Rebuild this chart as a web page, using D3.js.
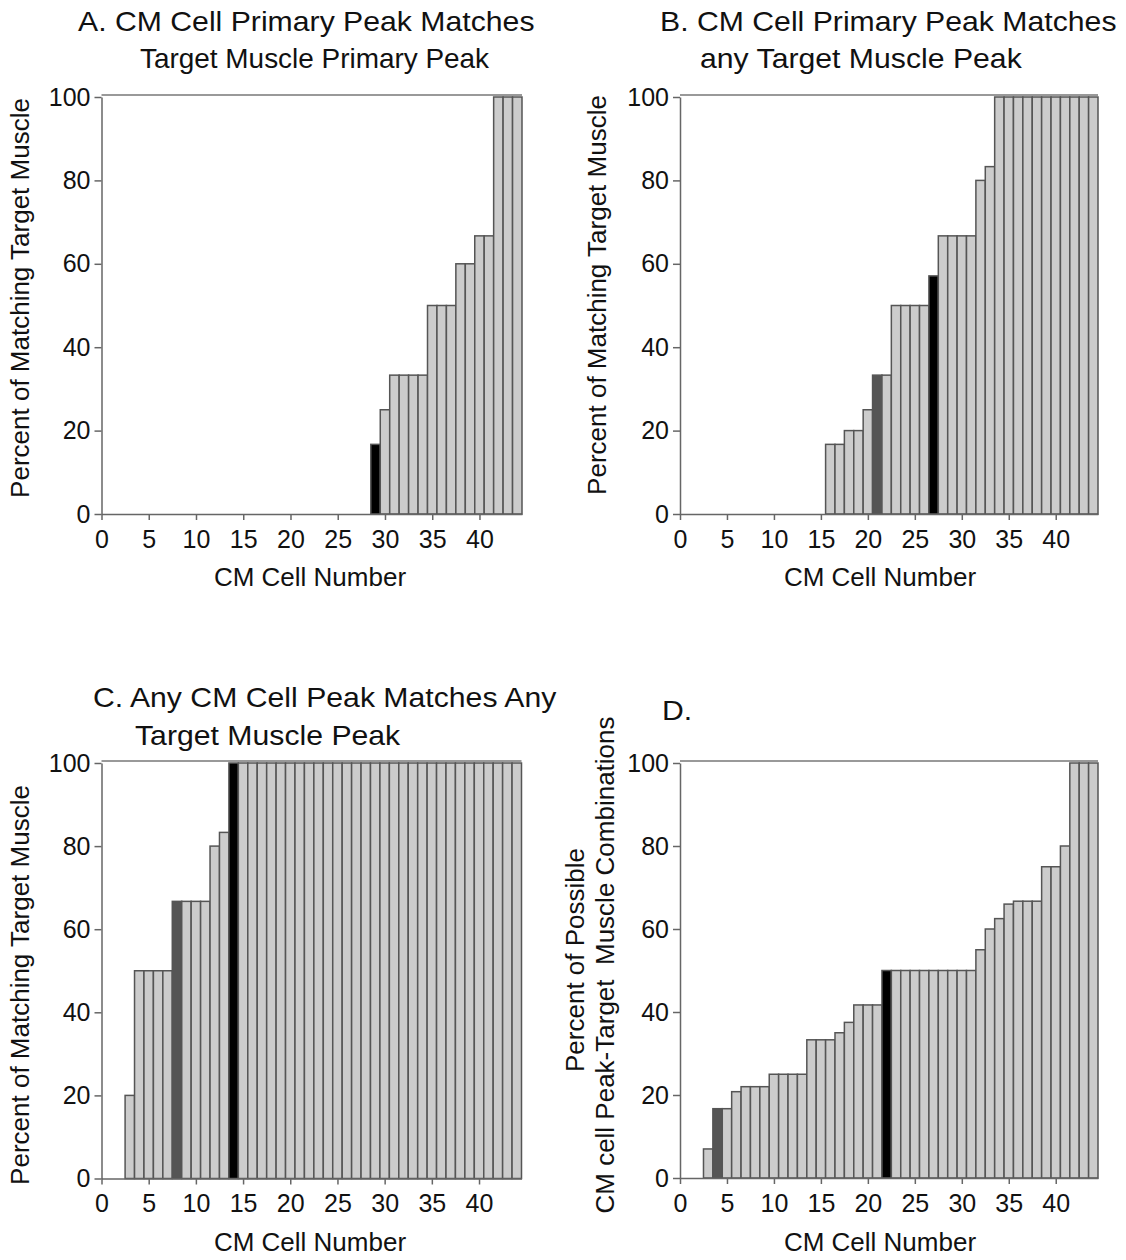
<!DOCTYPE html>
<html>
<head>
<meta charset="utf-8">
<script src="https://cdn.jsdelivr.net/npm/d3@7/dist/d3.min.js"></script>
<style>
  html, body { margin: 0; padding: 0; background: #fff; }
  svg { display: block; font-family: "Liberation Sans", Arial, Helvetica, sans-serif; }
  .tick text { font-size: 25px; fill: #111; }
  .tick line, .domain { stroke: #666; stroke-width: 1.5; }
</style>
</head>
<body>
<svg id="chart" width="1126" height="1260"></svg>
<script>
// CM cell numbers, 1 to 44 (sorted by percent in each panel)
const cells = [1,2,3,4,5,6,7,8,9,10,11,12,13,14,15,16,17,18,19,20,21,22,
               23,24,25,26,27,28,29,30,31,32,33,34,35,36,37,38,39,40,41,42,43,44];

// A. primary peak vs target muscle primary peak
const valuesA = [0,0,0,0,0,0,0,0,0,0,0,0,0,0,0,0,0,0,0,0,0,0,0,0,0,0,0,0,
                 16.7,25,33.3,33.3,33.3,33.3,50,50,50,60,60,66.7,66.7,100,100,100];
// B. primary peak vs any target muscle peak
const valuesB = [0,0,0,0,0,0,0,0,0,0,0,0,0,0,0,
                 16.7,16.7,20,20,25,33.3,33.3,50,50,50,50,57.1,66.7,66.7,66.7,66.7,80,83.3,
                 100,100,100,100,100,100,100,100,100,100,100];
// C. any peak vs any target muscle peak
const valuesC = [0,0,20,50,50,50,50,66.7,66.7,66.7,66.7,80,83.3,
                 100,100,100,100,100,100,100,100,100,100,100,100,100,100,100,100,
                 100,100,100,100,100,100,100,100,100,100,100,100,100,100,100];
// D. percent of possible peak / target muscle combinations
const valuesD = [0,0,7,16.7,16.7,20.8,22,22,22,25,25,25,25,33.3,33.3,33.3,35,37.5,
                 41.7,41.7,41.7,50,50,50,50,50,50,50,50,50,50,55,60,62.5,66,66.7,66.7,66.7,
                 75,75,80,100,100,100];

// highlighted cells: dark grey cell and black cell per panel
const darkCells  = { A: null, B: 21, C: 8,  D: 4 };
const blackCells = { A: 29,   B: 27, C: 14, D: 22 };

const yTicks = [0, 20, 40, 60, 80, 100];
const xTicks = [0, 5, 10, 15, 20, 25, 30, 35, 40];

const svg = d3.select("#chart");

// title lines: [text, x, baseline, horizontal scale]
const panels = [
  { key: "A", values: valuesA, xr: [101.5, 522], yr: [514, 97],
    title: [["A. CM Cell Primary Peak Matches", 78, 31, 1.06], ["Target Muscle Primary Peak", 140, 68, 0.98]],
    ylab: [["Percent of Matching Target Muscle", 20, 298]], xlab: [310, 586] },
  { key: "B", values: valuesB, xr: [680, 1098], yr: [514, 97],
    title: [["B. CM Cell Primary Peak Matches", 660, 31, 1.06], ["any Target Muscle Peak", 700, 68, 1.06]],
    ylab: [["Percent of Matching Target Muscle", 597, 295]], xlab: [880, 586] },
  { key: "C", values: valuesC, xr: [101.5, 521.5], yr: [1178.5, 763],
    title: [["C. Any CM Cell Peak Matches Any", 93, 707, 1.06], ["Target Muscle Peak", 135, 745, 1.06]],
    ylab: [["Percent of Matching Target Muscle", 20, 985]], xlab: [310, 1251] },
  { key: "D", values: valuesD, xr: [680, 1098], yr: [1178, 763],
    title: [["D.", 662, 720, 1.06]],
    ylab: [["Percent of Possible", 575, 960], ["CM cell Peak-Target  Muscle Combinations", 605, 965]],
    xlab: [880, 1251] }
];

panels.forEach(p => {
  const x = d3.scaleLinear().domain([0, 44.5]).range(p.xr);
  const y = d3.scaleLinear().domain([0, 100]).range(p.yr);
  const g = svg.append("g").attr("class", "panel-" + p.key);

  // plot frame top edge
  g.append("line")
    .attr("x1", x(0)).attr("x2", x(44.5))
    .attr("y1", y(100) - 2).attr("y2", y(100) - 2)
    .attr("stroke", "#999").attr("stroke-width", 2);

  // bars
  const data = cells.map((c, i) => ({ cell: c, value: p.values[i] }));
  g.append("g").selectAll("rect")
    .data(data.filter(d => d.value > 0))
    .join("rect")
      .attr("x", d => x(d.cell - 0.5))
      .attr("width", d => x(d.cell + 0.5) - x(d.cell - 0.5))
      .attr("y", d => y(d.value))
      .attr("height", d => y(0) - y(d.value))
      .attr("fill", d => d.cell === blackCells[p.key] ? "#000"
                        : d.cell === darkCells[p.key] ? "#555" : "#cccccc")
      .attr("stroke", "#555")
      .attr("stroke-width", 1.5);

  // axes
  g.append("g")
    .attr("transform", `translate(${x(0)},0)`)
    .call(d3.axisLeft(y).tickValues(yTicks).tickSize(7).tickSizeOuter(0).tickPadding(4));
  g.append("g")
    .attr("transform", `translate(0,${y(0)})`)
    .call(d3.axisBottom(x).tickValues(xTicks).tickSize(6).tickSizeOuter(0).tickPadding(10));

  // title lines
  p.title.forEach(([t, tx, ty, sx]) => {
    g.append("text")
      .attr("transform", `translate(${tx},${ty}) scale(${sx},1)`)
      .attr("font-size", 28.5).attr("fill", "#111").text(t);
  });

  // axis titles
  p.ylab.forEach(([t, lx, ly]) => {
    g.append("text")
      .attr("transform", `translate(${lx},${ly}) rotate(-90)`)
      .attr("text-anchor", "middle").attr("dy", "0.35em")
      .attr("font-size", 26).attr("fill", "#111")
      .style("white-space", "pre")
      .text(t);
  });
  g.append("text")
    .attr("x", p.xlab[0]).attr("y", p.xlab[1])
    .attr("text-anchor", "middle")
    .attr("font-size", 26).attr("fill", "#111")
    .text("CM Cell Number");
});
</script>
</body>
</html>
